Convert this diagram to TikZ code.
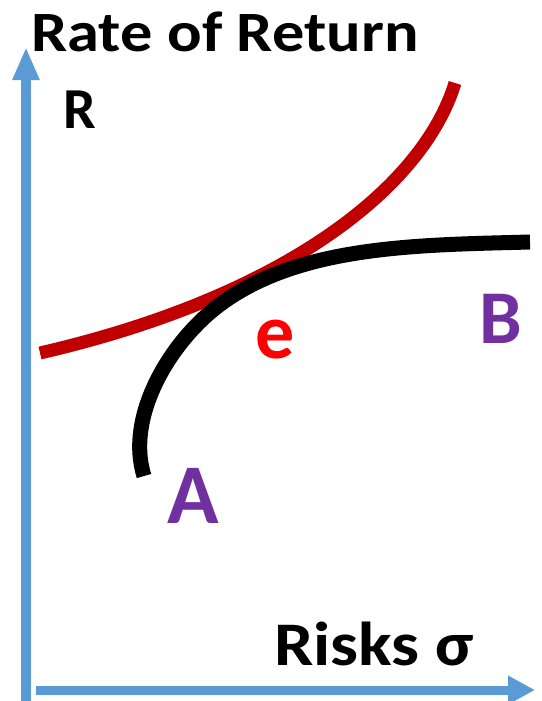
\documentclass[tikz,border=0pt]{standalone}
\usepackage{fontspec}
\setmainfont{Carlito}
\newfontfamily\titlefont{Carlito}[FakeStretch=1.13]
\usetikzlibrary{arrows.meta}
\definecolor{axisblue}{HTML}{5B9BD5}
\definecolor{curvered}{HTML}{C00000}
\definecolor{labelred}{HTML}{FF0000}
\definecolor{labelpurple}{HTML}{7030A0}

\begin{document}
\begin{tikzpicture}[x=1pt,y=-1pt,
  axis/.style={draw=axisblue,fill=axisblue},
  lbl/.style={inner sep=0pt,anchor=base,font=\bfseries}]
\useasboundingbox (0,0) rectangle (541,701);
%% axes
\coordinate (origin) at (26,701);
\coordinate (ytip) at (26,47);
\coordinate (xstart) at (36,690);
\coordinate (xtip) at (535,690);
\draw[axis,line width=10pt,-{Triangle[length=33pt,width=25pt]}](origin)--(ytip);
\draw[axis,line width=9pt,-{Triangle[length=27pt,width=27pt]}](xstart)--(xtip);
%% curves
\draw[curvered,line width=13pt](40,353) .. controls (283.5,296.8) and (422.7,188.2) .. (455,83);
\draw[black,line width=15pt](144,476) .. controls (125,415) and (172,339) .. (222,303)
  .. controls (302,245) and (420,245) .. (530,242);
%% labels
\node[lbl,font=\titlefont\fontsize{57}{60}\selectfont\bfseries] (yaxis) at (225,52) {Rate of Return};
\node[lbl,font=\fontsize{58}{60}\selectfont\bfseries] (ylabel) at (80,128) {R};
\node[lbl,font=\titlefont\fontsize{62}{64}\selectfont\bfseries] (xaxis) at (374,665) {Risks σ};
\node[lbl,labelred,font=\fontsize{78}{80}\selectfont\bfseries] (e) at (275.5,358) {e};
\node[lbl,labelpurple,font=\fontsize{76}{80}\selectfont\bfseries] (B) at (500.5,343) {B};
\node[lbl,labelpurple,font=\fontsize{85}{88}\selectfont\bfseries] (A) at (193,523) {A};
\end{tikzpicture}
\end{document}
